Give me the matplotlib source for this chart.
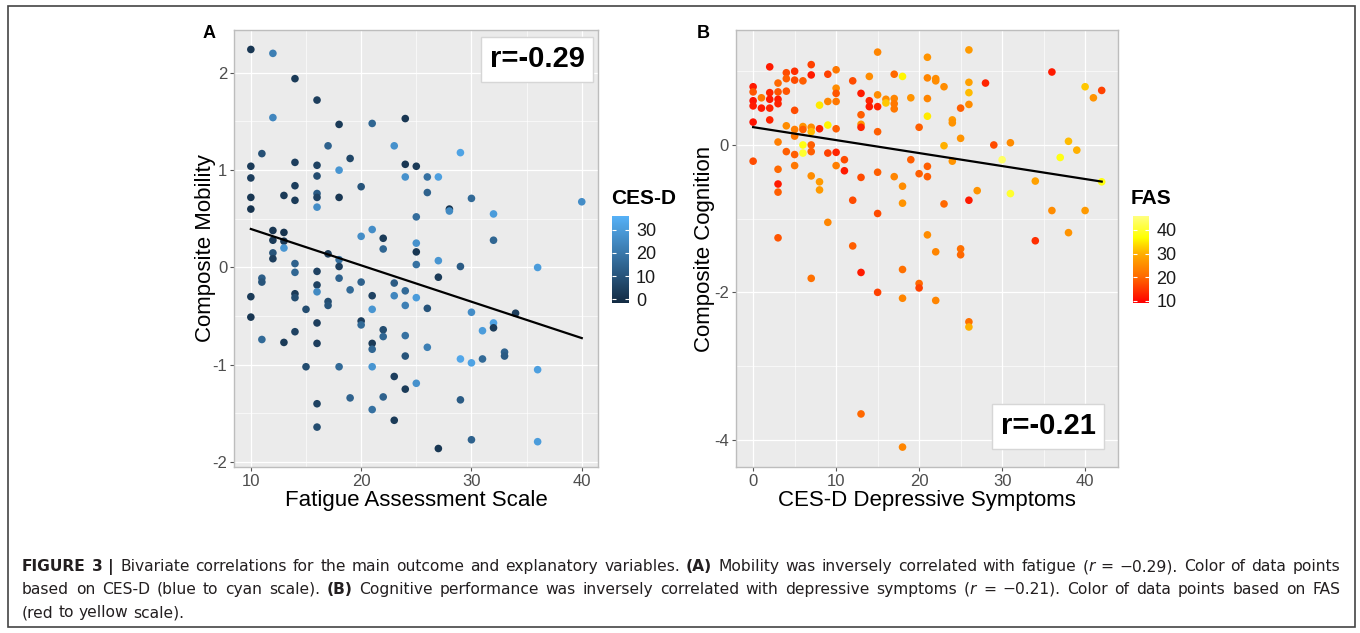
import numpy as np
import matplotlib
matplotlib.use("Agg")
import matplotlib.pyplot as plt
from matplotlib.colors import LinearSegmentedColormap, Normalize
from matplotlib.patches import Rectangle

plt.rcParams["font.family"] = ["Liberation Sans", "DejaVu Sans"]
plt.rcParams["axes.unicode_minus"] = False

# ---- panel A: fatigue (FAS) vs composite mobility, coloured by CES-D
fas_a = [10, 12, 14, 16, 12, 18, 21, 24, 17, 23, 11, 29, 19, 10, 14, 16, 24, 25, 18, 10,
         16, 24, 26, 27, 14, 20, 26, 10, 13, 14, 16, 16, 18, 16, 30, 40, 10, 25, 28, 28,
         32, 20, 21, 22, 25, 32, 12, 13, 12, 13, 13, 22, 25, 12, 12, 17, 18, 18, 25, 27,
         29, 36, 14, 14, 16, 11, 11, 16, 18, 20, 23, 27, 16, 19, 21, 23, 24, 25, 10, 14,
         14, 17, 17, 21, 24, 26, 15, 30, 34, 10, 16, 20, 20, 22, 22, 24, 31, 32, 32, 11,
         13, 14, 16, 21, 21, 26, 24, 29, 30, 31, 33, 33, 36, 15, 18, 21, 23, 24, 25, 19,
         22, 29, 16, 21, 23, 16, 30, 36, 27]
mobility = [2.24, 2.20, 1.94, 1.72, 1.54, 1.47, 1.48, 1.53, 1.25, 1.25, 1.17, 1.18, 1.12, 1.04,
            1.08, 1.05, 1.06, 1.04, 1.00, 0.92, 0.94, 0.93, 0.93, 0.93, 0.84, 0.83, 0.77, 0.72,
            0.74, 0.69, 0.76, 0.72, 0.72, 0.62, 0.71, 0.675, 0.60, 0.52, 0.60, 0.58, 0.55, 0.32,
            0.39, 0.30, 0.25, 0.28, 0.38, 0.36, 0.28, 0.27, 0.20, 0.19, 0.16, 0.15, 0.09, 0.14,
            0.08, 0.01, 0.03, 0.07, 0.01, 0.00, 0.04, -0.05, -0.04, -0.11, -0.15, -0.18, -0.11,
            -0.15, -0.16, -0.10, -0.25, -0.23, -0.29, -0.29, -0.24, -0.31, -0.30, -0.27, -0.31,
            -0.35, -0.39, -0.43, -0.39, -0.42, -0.43, -0.46, -0.47, -0.51, -0.57, -0.55, -0.59,
            -0.64, -0.71, -0.70, -0.65, -0.57, -0.62, -0.74, -0.77, -0.66, -0.78, -0.78, -0.84,
            -0.82, -0.91, -0.94, -0.98, -0.94, -0.87, -0.91, -1.05, -1.02, -1.02, -1.02, -1.12,
            -1.25, -1.19, -1.34, -1.33, -1.36, -1.40, -1.46, -1.57, -1.64, -1.77, -1.79, -1.86]
cesd_a = [2, 22, 3, 4, 24, 3, 15, 2, 14, 27, 9, 32, 6, 3, 4, 5, 2, 3, 28, 4,
          8, 27, 18, 31, 4, 10, 14, 2, 3, 3, 12, 5, 2, 26, 16, 26, 1, 17, 1, 25,
          30, 26, 26, 3, 27, 15, 2, 1, 3, 2, 28, 15, 2, 10, 4, 3, 18, 4, 18, 28,
          12, 30, 14, 15, 5, 13, 10, 5, 14, 14, 12, 3, 25, 16, 5, 24, 16, 30, 3, 3,
          8, 8, 10, 28, 22, 10, 8, 26, 4, 2, 4, 4, 16, 8, 15, 18, 30, 32, 3, 16,
          3, 5, 4, 3, 15, 22, 10, 33, 32, 16, 14, 12, 31, 8, 16, 28, 4, 3, 27, 14,
          14, 12, 5, 18, 3, 8, 14, 30, 2]

# ---- panel B: depressive symptoms (CES-D) vs composite cognition, coloured by FAS
cesd_b = [15, 21, 26, 2, 7, 4, 5, 7, 9, 10, 4, 5, 6, 3, 12, 14, 17, 18, 21, 22,
          22, 23, 26, 28, 36, 0, 0, 1, 2, 3, 4, 0, 0, 1, 2, 2, 3, 3, 2, 5,
          8, 9, 10, 10, 10, 13, 14, 14, 15, 15, 16, 16, 17, 17, 17, 19, 21, 26, 26, 25,
          21, 40, 41, 42, 13, 13, 13, 24, 24, 0, 4, 5, 5, 6, 6, 7, 7, 8, 9, 10,
          15, 20, 25, 3, 6, 6, 7, 7, 4, 5, 9, 10, 11, 10, 11, 0, 3, 5, 3, 3,
          7, 8, 8, 13, 15, 17, 18, 19, 21, 20, 21, 23, 24, 29, 31, 30, 38, 39, 37, 34,
          31, 27, 26, 23, 18, 12, 15, 36, 40, 42, 9, 3, 21, 38, 34, 12, 22, 25, 25, 7,
          13, 18, 15, 18, 20, 20, 22, 26, 26, 13, 18]
cognition = [1.26, 1.19, 1.29, 1.06, 1.09, 0.98, 1.00, 0.95, 0.96, 1.02, 0.90, 0.88, 0.87, 0.84,
             0.87, 0.93, 0.96, 0.93, 0.91, 0.90, 0.87, 0.79, 0.85, 0.84, 0.99, 0.79, 0.72, 0.64,
             0.71, 0.72, 0.73, 0.60, 0.53, 0.50, 0.62, 0.50, 0.62, 0.56, 0.34, 0.47, 0.54, 0.59,
             0.77, 0.70, 0.59, 0.70, 0.60, 0.52, 0.68, 0.52, 0.62, 0.57, 0.63, 0.56, 0.49, 0.64,
             0.63, 0.71, 0.55, 0.50, 0.39, 0.79, 0.64, 0.74, 0.41, 0.28, 0.24, 0.34, 0.30, 0.31,
             0.26, 0.21, 0.12, 0.25, 0.21, 0.24, 0.18, 0.22, 0.27, 0.22, 0.18, 0.24, 0.09, 0.04,
             0.00, -0.11, 0.00, -0.09, -0.09, -0.13, -0.11, -0.10, -0.20, -0.28, -0.35, -0.22,
             -0.33, -0.28, -0.53, -0.64, -0.42, -0.50, -0.61, -0.44, -0.37, -0.43, -0.56, -0.20,
             -0.29, -0.39, -0.43, -0.01, -0.22, 0.00, 0.03, -0.20, 0.05, -0.07, -0.17, -0.49,
             -0.66, -0.62, -0.75, -0.80, -0.79, -0.75, -0.93, -0.89, -0.89, -0.50, -1.05, -1.26,
             -1.22, -1.19, -1.30, -1.37, -1.45, -1.41, -1.49, -1.81, -1.73, -1.69, -2.00, -2.08,
             -1.88, -1.94, -2.11, -2.40, -2.47, -3.65, -4.10]
fas_b = [24, 26, 27, 12, 16, 17, 14, 12, 16, 22, 19, 17, 19, 20, 17, 25, 20, 36, 24, 25,
         25, 25, 28, 13, 12, 12, 18, 22, 13, 18, 18, 11, 12, 12, 12, 13, 12, 13, 13, 17,
         35, 24, 25, 18, 22, 12, 13, 12, 25, 13, 25, 32, 24, 22, 22, 26, 24, 31, 25, 19,
         35, 32, 26, 16, 19, 26, 13, 27, 26, 11, 25, 23, 22, 26, 19, 25, 31, 13, 36, 19,
         19, 19, 26, 23, 38, 40, 19, 19, 19, 19, 16, 13, 17, 23, 12, 17, 20, 22, 12, 19,
         25, 27, 27, 17, 19, 24, 25, 19, 19, 19, 19, 30, 26, 17, 25, 44, 31, 30, 38, 28,
         40, 26, 12, 20, 26, 17, 17, 25, 27, 38, 24, 18, 25, 26, 14, 19, 24, 21, 20, 21,
         12, 21, 16, 24, 20, 16, 24, 21, 30, 20, 24]

panels = [
    dict(x=fas_a, y=mobility, c=cesd_a, xlabel="Fatigue Assessment Scale",
         ylabel="Composite Mobility", r="r=-0.29", letter="A", cbar_title="CES-D"),
    dict(x=cesd_b, y=cognition, c=fas_b, xlabel="CES-D Depressive Symptoms",
         ylabel="Composite Cognition", r="r=-0.21", letter="B", cbar_title="FAS"),
]

W, H = 1360, 633
fig = plt.figure(figsize=(W / 100, H / 100), dpi=100)


def fx(px):
    return px / W


def fy(py):
    return 1 - py / H


blues = LinearSegmentedColormap.from_list("ggblue", ["#132B43", "#56B1F7"])
heat = LinearSegmentedColormap.from_list(
    "heat", [(0, "#FF0000"), (0.3, "#FF6A00"), (0.57, "#FFB000"),
             (0.75, "#FFFF00"), (1, "#FFFF80")])

axA = fig.add_axes([fx(234.3), fy(467), fx(364), 437 / H])
axB = fig.add_axes([fx(735.7), fy(467), fx(382.6), 437 / H])
caxA = fig.add_axes([fx(612.3), fy(302.7), fx(16.7), 86.7 / H])
caxB = fig.add_axes([fx(1132.7), fy(302.7), fx(16.7), 86.7 / H])

setup = [
    (axA, caxA, blues, Normalize(-1.5, 36), (8.5, 41.5), (-2.05, 2.44),
     [10, 20, 30, 40], [15, 25, 35], [-2, -1, 0, 1, 2], [-1.5, -0.5, 0.5, 1.5],
     [0, 10, 20, 30], 0.8316, 0.933, (209, 34), (611, 199), -0.050),
    (axB, caxB, heat, Normalize(9.2, 45.9), (-2.1, 44.0), (-4.37, 1.56),
     [0, 10, 20, 30, 40], [5, 15, 25, 35], [-4, -2, 0], [-3, -1, 1],
     [10, 20, 30, 40], 0.817, 0.093, (703, 33), (1131, 199), -0.054),
]

for p, (ax, cax, cmap, norm, xl, yl, xt, xmin, yt, ymin, ct, rx, ry, let, ctit, ylx) in zip(panels, setup):
    ax.set_facecolor("#EBEBEB")
    ax.set_xlim(*xl)
    ax.set_ylim(*yl)
    ax.set_xticks(xt)
    ax.set_xticks(xmin, minor=True)
    ax.set_yticks(yt)
    ax.set_yticks(ymin, minor=True)
    ax.grid(True, which="major", color="white", lw=0.9)
    ax.grid(True, which="minor", color="white", lw=0.45)
    ax.set_axisbelow(True)
    for s in ax.spines.values():
        s.set_color("#BDBDBD")
        s.set_linewidth(1.0)
    ax.tick_params(which="major", length=3, color="#555555", labelsize=12,
                   labelcolor="#4D4D4D", pad=2)
    ax.tick_params(which="minor", length=0)

    sc = ax.scatter(p["x"], p["y"], c=p["c"], cmap=cmap, norm=norm, s=30,
                    edgecolors="none", zorder=3)

    # least-squares line over the data range
    k, b = np.polyfit(p["x"], p["y"], 1)
    xx = np.array([min(p["x"]), max(p["x"])])
    ax.plot(xx, k * xx + b, color="black", lw=1.6, zorder=4)

    ax.set_xlabel(p["xlabel"], fontsize=16, color="black", labelpad=0.5)
    ax.set_ylabel(p["ylabel"], fontsize=16, color="black")
    ax.yaxis.set_label_coords(ylx, 0.5)

    ax.text(rx, ry, p["r"], transform=ax.transAxes, ha="center", va="center",
            fontsize=21, fontweight="bold", zorder=5,
            bbox=dict(boxstyle="square,pad=0.3", fc="white", ec="#D6D6D6", lw=1))

    fig.text(fx(let[0]), fy(let[1]), p["letter"], ha="center", va="center",
             fontsize=13, fontweight="bold")

    cb = fig.colorbar(sc, cax=cax)
    cb.set_ticks(ct)
    cb.outline.set_visible(False)
    cax.tick_params(length=3, direction="in", color="white", labelsize=13,
                    labelcolor="#1A1A1A", pad=5, right=True, left=True)
    fig.text(fx(ctit[0]), fy(ctit[1]), p["cbar_title"], ha="left", va="center",
             fontsize=15, fontweight="bold")

# outer frame round the whole figure
fig.patches.append(Rectangle((fx(7.5), fy(627)), fx(1347), 621 / H, transform=fig.transFigure,
                             fill=False, ec="#444444", lw=1.2))

# caption with mixed bold / italic runs, justified lines
cap_size = 11.2
cap_lines = [
    [("FIGURE 3 |", "bold", "normal"),
     (" Bivariate correlations for the main outcome and explanatory variables.", "normal", "normal"),
     (" (A)", "bold", "normal"),
     (" Mobility was inversely correlated with fatigue (", "normal", "normal"),
     ("r", "normal", "italic"),
     (" = \u22120.29). Color of data points", "normal", "normal")],
    [("based on CES-D (blue to cyan scale).", "normal", "normal"),
     (" (B)", "bold", "normal"),
     (" Cognitive performance was inversely correlated with depressive symptoms (", "normal", "normal"),
     ("r", "normal", "italic"),
     (" = \u22120.21). Color of data points based on FAS", "normal", "normal")],
    [("(red to yellow scale).", "normal", "normal")],
]
cap_y = [566, 589, 612]
justify = [True, True, False]
x_left, x_right = 22.0, 1340.0

renderer = fig.canvas.get_renderer()


def cap_text(x, y, s, weight, style):
    return fig.text(fx(x), fy(y), s, ha="left", va="baseline", family="DejaVu Sans",
                    fontsize=cap_size, fontweight=weight, fontstyle=style, color="#231F20")


# width of one space in the caption font
probe = cap_text(0, 0, " x", "normal", "normal")
probe2 = cap_text(0, 0, "x", "normal", "normal")
space_w = probe.get_window_extent(renderer).width - probe2.get_window_extent(renderer).width
probe.remove()
probe2.remove()

for parts, yy, just in zip(cap_lines, cap_y, justify):
    # split into words; remember whether a gap comes before each word
    words = []
    for txt, weight, style in parts:
        toks = txt.split(" ")
        for i, w in enumerate(toks):
            if w == "":
                continue
            gap = (i > 0) or (txt.startswith(" ") and i == 0)
            words.append([w, weight, style, gap and len(words) > 0])
    arts = []
    for w in words:
        t = cap_text(0, yy + 5, w[0], w[1], w[2])
        arts.append((t, t.get_window_extent(renderer).width, w[3]))
    n_gaps = sum(1 for a in arts if a[2])
    total = sum(a[1] for a in arts)
    gap_w = (x_right - x_left - total) / n_gaps if just else space_w
    x = x_left
    for t, wd, gap in arts:
        if gap:
            x += gap_w
        t.set_x(fx(x))
        x += wd

fig.savefig("out.png", dpi=100)
